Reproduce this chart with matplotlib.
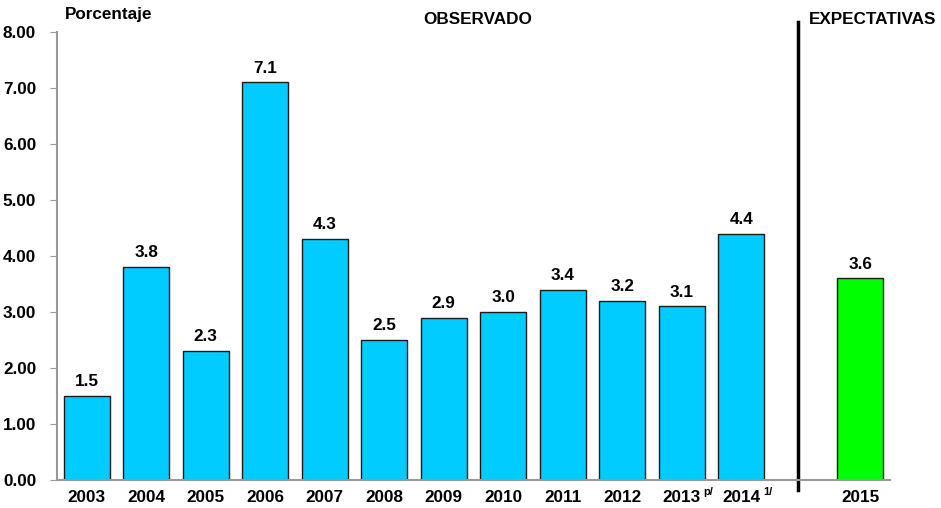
import matplotlib.pyplot as plt
from matplotlib.transforms import blended_transform_factory, offset_copy

plt.rcParams['font.family'] = ['Liberation Sans', 'DejaVu Sans']
plt.rcParams['font.weight'] = 'bold'

years = ['2003', '2004', '2005', '2006', '2007', '2008', '2009', '2010',
         '2011', '2012', '2013', '2014']
notes = ['', '', '', '', '', '', '', '', '', '', 'p/', '1/']
observed = [1.5, 3.8, 2.3, 7.1, 4.3, 2.5, 2.9, 3.0, 3.4, 3.2, 3.1, 4.4]
exp_year = '2015'
expected = [3.6]

FS = 12.3

fig = plt.figure(figsize=(9.41, 5.08), dpi=100)
ax = fig.add_axes([57 / 941, 1 - 480 / 508, (890 - 57) / 941, (480 - 32) / 508])

x_obs = list(range(len(observed)))
x_exp = [len(observed) + 1]

ax.bar(x_obs, observed, width=0.78, color='#00CCFF', edgecolor='#1a1a1a', linewidth=1)
ax.bar(x_exp, expected, width=0.78, color='#00FF00', edgecolor='#1a1a1a', linewidth=1)

for x, v in zip(x_obs + x_exp, observed + expected):
    ax.text(x, v + 0.12, f'{v:.1f}', ha='center', va='bottom', fontsize=FS, fontweight='bold')

# separator between observed and expected
sep = len(observed) - 0.05
ax.plot([sep, sep], [-0.18, 8.18], color='black', linewidth=2.5, clip_on=False)

ax.set_xlim(-0.5, len(observed) + 1.5)
ax.set_ylim(0, 8)
ax.set_yticks([0, 1, 2, 3, 4, 5, 6, 7, 8])
ax.set_yticklabels([f'{t:.2f}' for t in range(9)], fontsize=FS, fontweight='bold')
ax.set_xticks(x_obs + x_exp)
ax.set_xticklabels(years + [exp_year], fontsize=FS, fontweight='bold')
ax.tick_params(axis='x', length=0, pad=7)
ax.tick_params(axis='y', length=5, color='#999999', pad=10)

# footnote marks next to the year labels
trans = offset_copy(blended_transform_factory(ax.transData, ax.transAxes), fig=fig, x=22, y=-12, units='dots')
for x, n in zip(x_obs, notes):
    if n:
        ax.text(x, 0, n, transform=trans, fontsize=8, fontweight='bold', ha='left', va='center')

for s in ['top', 'right']:
    ax.spines[s].set_visible(False)
ax.spines['left'].set_color('#999999')
ax.spines['bottom'].set_color('#999999')
ax.spines['left'].set_linewidth(1.5)
ax.spines['bottom'].set_linewidth(1.5)

fig.text(65 / 941, 1 - 14 / 508, 'Porcentaje', fontsize=FS, fontweight='bold', va='center')
fig.text(478 / 941, 1 - 20 / 508, 'OBSERVADO', fontsize=FS, fontweight='bold', va='center', ha='center')
fig.text(809 / 941, 1 - 20 / 508, 'EXPECTATIVAS', fontsize=FS, fontweight='bold', va='center', ha='left')

fig.savefig('out.png', dpi=100)
